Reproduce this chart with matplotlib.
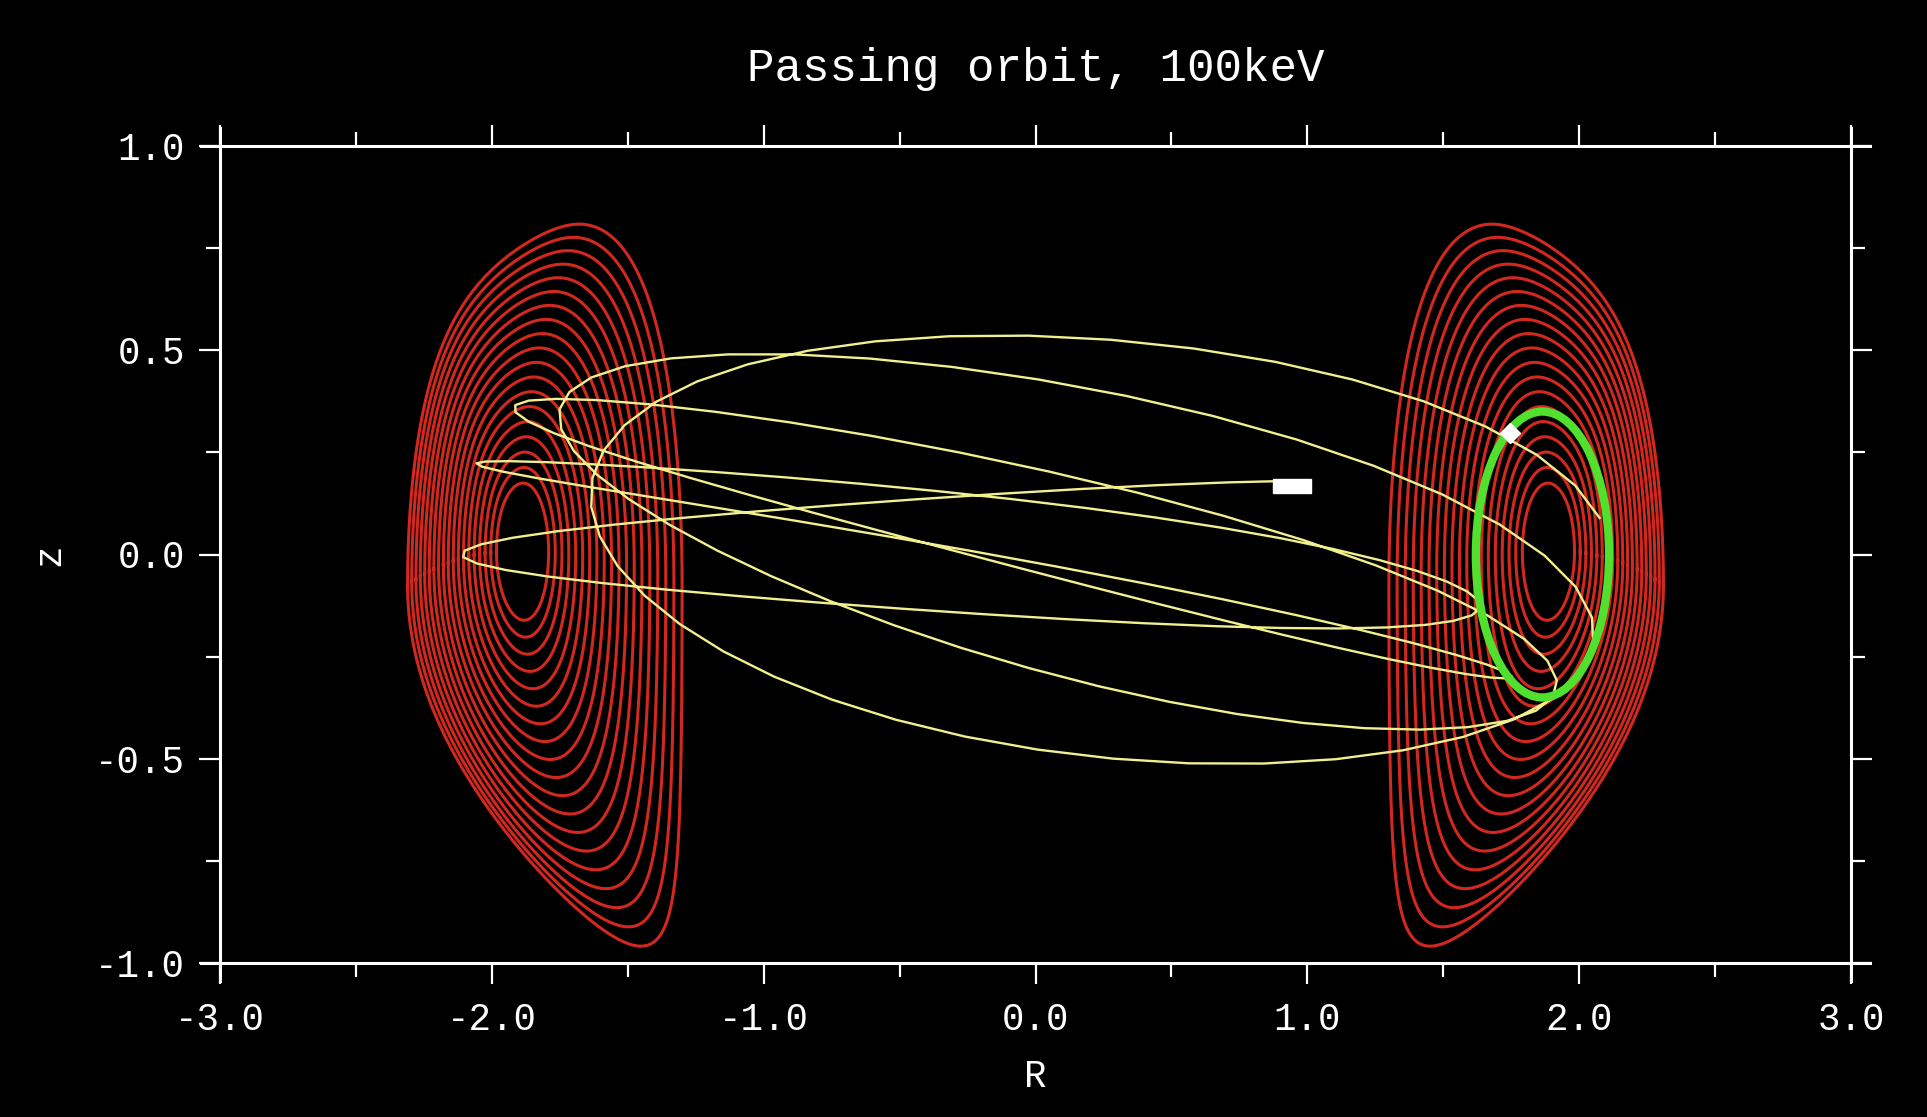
import numpy as np
import matplotlib.pyplot as plt
from matplotlib.patches import Ellipse, Rectangle
from matplotlib.ticker import MultipleLocator, FormatStrFormatter

plt.rcParams['font.family'] = ['Liberation Mono', 'DejaVu Sans Mono']
plt.rcParams['axes.unicode_minus'] = True

# normalised minor radius of the plotted flux surfaces
rho_levels = [0.19, 0.235, 0.28, 0.325, 0.37, 0.415, 0.46, 0.505, 0.55, 0.595,
              0.64, 0.685, 0.73, 0.775, 0.82, 0.865, 0.91, 0.955, 1.0]

# equilibrium shape
R_axis, Z_axis = 1.89, 0.01
R_geo, Z_geo = 1.805, -0.075      # boundary centre
a_minor = 0.505
kappa = 1.75
delta_up, delta_low = 0.25, 0.70
square_out_up = 0.18              # only the outboard upper quadrant

# orbit: poloidal trace (green), rotational transform and view tilt
orb_Rc, orb_Zc = 1.865, 0.0
orb_a, orb_b = 0.245, 0.35
orb_iota = 0.889
orb_tilt = 0.10
orb_phi_start, orb_phi_end = -1430.0, 302.0   # toroidal angle, deg
orb_npts = 194

start_R, start_Z = 0.945, 0.168
end_R, end_Z = 1.745, 0.297


def surface(rho, n=500):
    th = np.linspace(0, 2 * np.pi, n)
    r = a_minor * rho
    R0 = R_axis + (R_geo - R_axis) * rho ** 2
    Z0 = Z_axis + (Z_geo - Z_axis) * rho ** 2
    d = np.where(np.sin(th) >= 0, delta_up, delta_low) * rho ** 1.5
    w = np.where(th <= np.pi / 2, np.cos(th), 0.0)
    sq = square_out_up * rho * w
    R = R0 + r * np.cos(th + np.arcsin(d) * np.sin(th))
    Z = Z0 + kappa * r * np.sin(th + sq * np.sin(2 * th))
    return R, Z


fig = plt.figure(figsize=(19.27, 11.17), dpi=100, facecolor='black')
ax = fig.add_axes([220 / 1927, 1 - 963 / 1117, 1631 / 1927, 817 / 1117])
ax.set_facecolor('black')

red = '#d2281f'
for rho in rho_levels:
    R, Z = surface(rho)
    ax.plot(R, Z, color=red, lw=2.2)
    ax.plot(-R, Z, color=red, lw=2.2)

# guiding-centre orbit projected on the R-z plane
phi = np.radians(np.linspace(orb_phi_start, orb_phi_end, orb_npts))
theta = orb_iota * (phi - np.pi)
Rp = orb_Rc + orb_a * np.cos(theta)
Zp = orb_Zc + orb_b * np.sin(theta)
ax.plot(Rp * np.cos(phi), Zp + orb_tilt * Rp * np.sin(phi),
        color='#f2f08e', lw=1.7, zorder=4)

ax.add_patch(Ellipse((orb_Rc, orb_Zc), 2 * orb_a, 2 * orb_b, fill=False,
                     edgecolor='#52e02e', lw=6, zorder=5))
ax.add_patch(Rectangle((start_R - 0.07, start_Z - 0.018), 0.14, 0.036,
                       facecolor='white', edgecolor='white', zorder=6))
ax.plot([end_R], [end_Z], marker='D', ms=10, color='white', zorder=6)

ax.set_xlim(-3.0, 3.0)
ax.set_ylim(-1.0, 1.0)
ax.xaxis.set_major_locator(MultipleLocator(1.0))
ax.xaxis.set_minor_locator(MultipleLocator(0.5))
ax.yaxis.set_major_locator(MultipleLocator(0.5))
ax.yaxis.set_minor_locator(MultipleLocator(0.25))
ax.xaxis.set_major_formatter(FormatStrFormatter('%.1f'))
ax.yaxis.set_major_formatter(FormatStrFormatter('%.1f'))

for side in ['top', 'bottom', 'left', 'right']:
    ax.spines[side].set_color('white')
    ax.spines[side].set_linewidth(2.2)
ax.spines['top'].set_bounds(-3.07, 3.07)
ax.spines['bottom'].set_bounds(-3.07, 3.07)
ax.spines['left'].set_bounds(-1.045, 1.045)
ax.spines['right'].set_bounds(-1.045, 1.045)

ax.tick_params(which='both', direction='out', colors='white',
               top=True, right=True, width=1.6)
ax.tick_params(which='major', length=15, labelsize=27, pad=13)
ax.tick_params(which='minor', length=10)
ax.tick_params(axis='y', which='major', pad=10)

ax.set_title('Passing orbit, 100keV', color='white', fontsize=33, pad=47)
ax.set_xlabel('R', color='white', fontsize=27)
ax.set_ylabel('z', color='white', fontsize=27)
ax.xaxis.set_label_coords(0.5, -0.117)
ax.yaxis.set_label_coords(-0.0935, 0.5)

fig.savefig('out.png', dpi=100, facecolor='black')
